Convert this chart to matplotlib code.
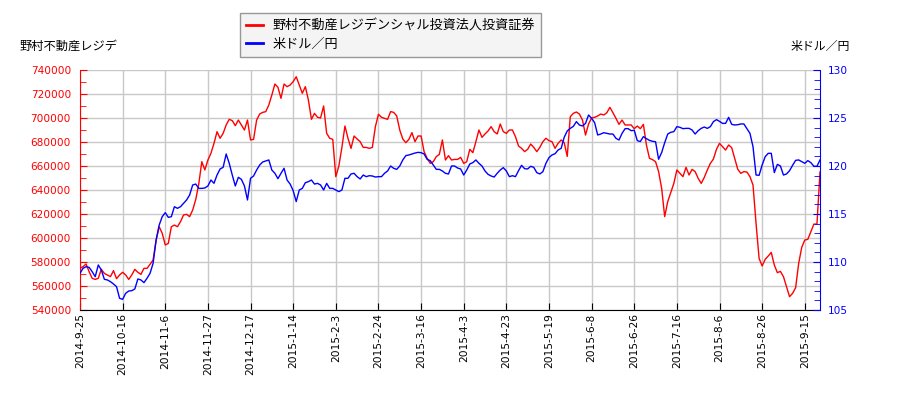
import matplotlib
matplotlib.use("Agg")
import matplotlib.pyplot as plt
from matplotlib.ticker import MultipleLocator, FuncFormatter
import numpy as np

plt.rcParams['font.family'] = ['Noto Sans CJK JP', 'DejaVu Sans']

# 野村不動産レジデンシャル投資法人 (left axis, yen)
reit = [
    574700, 576100, 578300, 571900, 566400, 565500, 566400, 573900, 570500, 569200,
    567800, 572800, 566100, 569200, 571400, 569200, 565500, 569200, 573900, 571400,
    569700, 574700, 574700, 578000, 581700, 598300, 609400, 603900, 594200, 595500,
    609400, 610800, 609400, 613600, 619200, 619700, 617800, 623300, 632000, 645000,
    663600, 656700, 665000, 670600, 678900, 688600, 683100, 687200, 694200, 698900,
    697800, 693600, 698300, 694200, 690000, 698300, 681700, 682200, 698300, 703300,
    704700, 705300, 710800, 719200, 728300, 725600, 716400, 728300, 726100, 727500,
    730300, 734400, 727500, 720600, 726100, 715000, 698900, 703900, 700600, 700000,
    710000, 687200, 683100, 682200, 651100, 660000, 675500, 693300, 683100, 674700,
    685000, 682500, 680300, 675500, 675500, 674700, 675500, 692800, 703100, 700600,
    699700, 698900, 705300, 704700, 701700, 690000, 682500, 679400, 682200, 687800,
    680300, 685000, 685000, 671900, 666400, 662200, 663600, 667800, 669700, 681700,
    665000, 668600, 665000, 665500, 665500, 667200, 662200, 663600, 673900, 671100,
    680300, 690000, 683900, 686700, 689200, 692800, 688600, 686700, 695000, 688600,
    687200, 690000, 690000, 684400, 676700, 674700, 672000, 673900, 678300, 675500,
    672000, 675500, 680300, 683100, 681100, 680300, 674700, 678900, 681700, 679400,
    668000, 701100, 703900, 705000, 703300, 698300, 685800, 695000, 700000, 700600,
    701700, 703300, 702500, 704400, 708900, 704400, 699700, 694700, 698300, 694200,
    694200, 694200, 691100, 693300, 691100, 694700, 677500, 666400, 665300, 663600,
    655300, 641400, 617800, 630300, 637800, 645500, 656700, 653900, 651100, 658900,
    652500, 657200, 655300, 649700, 645500, 650500, 656700, 662200, 665800, 673900,
    678900, 676100, 673300, 677500, 675300, 666400, 657200, 653900, 655300, 655000,
    651100, 644200, 612200, 583000, 576700, 582200, 585000, 588000, 577500, 571100,
    572200, 567800, 559400, 551100, 553900, 558600, 578900, 592200, 598300, 598900,
    605300, 611600, 611600, 655000,
]

# 米ドル／円 (right axis)
usdjpy = [
    108.82, 109.34, 109.51, 109.44, 108.99, 108.47, 109.69, 109.17, 108.20, 108.13,
    107.95, 107.71, 107.43, 106.22, 106.11, 106.74, 106.98, 107.01, 107.19, 108.23,
    108.13, 107.85, 108.30, 108.82, 109.86, 112.29, 113.85, 114.72, 115.14, 114.65,
    114.72, 115.76, 115.59, 115.76, 116.11, 116.46, 116.98, 118.02, 118.12, 117.67,
    117.67, 117.71, 117.92, 118.54, 118.20, 119.06, 119.69, 119.86, 121.25, 120.28,
    119.06, 117.92, 118.82, 118.61, 117.92, 116.46, 118.72, 118.96, 119.58, 120.10,
    120.42, 120.52, 120.63, 119.58, 119.24, 118.68, 119.24, 119.76, 118.54, 118.12,
    117.43, 116.29, 117.50, 117.67, 118.26, 118.37, 118.54, 118.12, 118.19, 118.02,
    117.50, 118.19, 117.67, 117.67, 117.50, 117.33, 117.50, 118.72, 118.72, 119.17,
    119.24, 118.89, 118.65, 119.06, 118.89, 118.99, 118.96, 118.85, 118.89, 118.89,
    119.24, 119.48, 120.00, 119.76, 119.65, 120.00, 120.63, 121.08, 121.15, 121.25,
    121.35, 121.42, 121.39, 121.25, 120.69, 120.56, 120.10, 119.65, 119.65, 119.48,
    119.24, 119.17, 120.00, 120.00, 119.79, 119.69, 119.06, 119.58, 120.21, 120.35,
    120.63, 120.28, 120.00, 119.48, 119.13, 118.96, 118.85, 119.24, 119.58, 119.83,
    119.48, 118.89, 118.99, 118.89, 119.51, 120.07, 119.72, 119.69, 119.97, 119.86,
    119.31, 119.17, 119.41, 120.28, 120.87, 121.15, 121.28, 121.67, 121.84, 122.99,
    123.65, 123.92, 124.13, 124.62, 124.27, 124.17, 124.44, 125.31, 124.97, 124.51,
    123.23, 123.33, 123.47, 123.40, 123.33, 123.33, 122.88, 122.71, 123.40, 123.89,
    123.89, 123.68, 123.72, 122.64, 122.55, 123.06, 122.85, 122.67, 122.57, 122.53,
    120.70, 121.40, 122.43, 123.33, 123.51, 123.58, 124.10, 124.03, 123.89, 123.92,
    123.92, 123.75, 123.33, 123.68, 123.92, 124.06, 123.92, 124.10, 124.62, 124.83,
    124.65, 124.44, 124.44, 125.07, 124.34, 124.27, 124.30, 124.38, 124.38, 123.89,
    123.40, 122.01, 119.06, 119.03, 120.10, 120.97, 121.32, 121.32, 119.31, 120.17,
    120.00, 119.06, 119.17, 119.51, 120.07, 120.59, 120.63, 120.45, 120.28, 120.56,
    120.35, 119.97, 119.97, 120.63,
]

tick_labels = [
    "2014-9-25", "2014-10-16", "2014-11-6", "2014-11-27", "2014-12-17",
    "2015-1-14", "2015-2-3", "2015-2-24", "2015-3-16", "2015-4-3",
    "2015-4-23", "2015-5-19", "2015-6-8", "2015-6-26", "2015-7-16",
    "2015-8-6", "2015-8-26", "2015-9-15",
]
tick_step = 14  # trading days between labels

name_left = "野村不動産レジデンシャル投資法人投資証券"
name_right = "米ドル／円"

RED = "#ff0000"
BLUE = "#0000ff"
TICKFONT = 'DejaVu Sans'

fig = plt.figure(figsize=(9, 4), dpi=100)
ax = fig.add_axes([80 / 900, 90 / 400, 740 / 900, 240 / 400])
ax2 = ax.twinx()

x = np.arange(len(reit))
l1, = ax.plot(x, reit, color=RED, lw=1.0, label=name_left)
l2, = ax2.plot(x, usdjpy, color=BLUE, lw=1.0, label=name_right)

ax.set_xlim(0, len(reit) - 1)
ax.set_ylim(540000, 740000)
ax2.set_ylim(105, 130)

ax.yaxis.set_major_locator(MultipleLocator(20000))
ax.yaxis.set_minor_locator(MultipleLocator(10000))
ax.yaxis.set_major_formatter(FuncFormatter(lambda v, p: f"{int(v)}"))
ax2.yaxis.set_major_locator(MultipleLocator(5))
ax2.yaxis.set_minor_locator(MultipleLocator(1))

ax.set_xticks(np.arange(len(tick_labels)) * tick_step)
ax.set_xticklabels(tick_labels, rotation=90)

ax.grid(True, which='major', color='#c8c8c8', lw=1)
ax.set_axisbelow(True)

ax.tick_params(axis='y', which='both', direction='in', colors=RED, labelsize=7.6, pad=6.5)
ax.tick_params(axis='y', which='major', length=5)
ax.tick_params(axis='y', which='minor', length=4)
ax2.tick_params(axis='y', which='both', direction='in', colors=BLUE, labelsize=7.6, pad=5.5)
ax2.tick_params(axis='y', which='major', length=5)
ax2.tick_params(axis='y', which='minor', length=4)
ax.tick_params(axis='x', direction='in', length=5, colors='black', labelsize=7.7, pad=2.5)

for lab in ax.get_xticklabels() + ax.get_yticklabels() + ax2.get_yticklabels():
    lab.set_family(TICKFONT)

for a in (ax, ax2):
    a.spines['top'].set_visible(False)
ax.spines['left'].set_color(RED)
ax2.spines['left'].set_visible(False)
ax2.spines['right'].set_color(BLUE)
ax.spines['right'].set_visible(False)
ax2.spines['bottom'].set_visible(False)
ax.spines['bottom'].set_color('black')

fig.text(20 / 900, 1 - 46.5 / 400, "野村不動産レジデ", fontsize=8.8, va='center', ha='left')
fig.text(850 / 900, 1 - 46 / 400, "米ドル／円", fontsize=8.6, va='center', ha='right')

leg = fig.legend(handles=[l1, l2], loc='upper left',
                 bbox_to_anchor=(240 / 900, 1 - 56 / 400, 301 / 900, 43 / 400),
                 mode='expand', fontsize=9.45, frameon=True, fancybox=False,
                 handlelength=1.3, borderpad=0.45, labelspacing=0.45,
                 handletextpad=0.75, borderaxespad=0.0)
leg.get_frame().set_facecolor('#f2f2f2')
leg.get_frame().set_edgecolor('#808080')
leg.get_frame().set_linewidth(1.0)
for h in leg.get_lines():
    h.set_linewidth(2)

fig.savefig("out.png", dpi=100)
